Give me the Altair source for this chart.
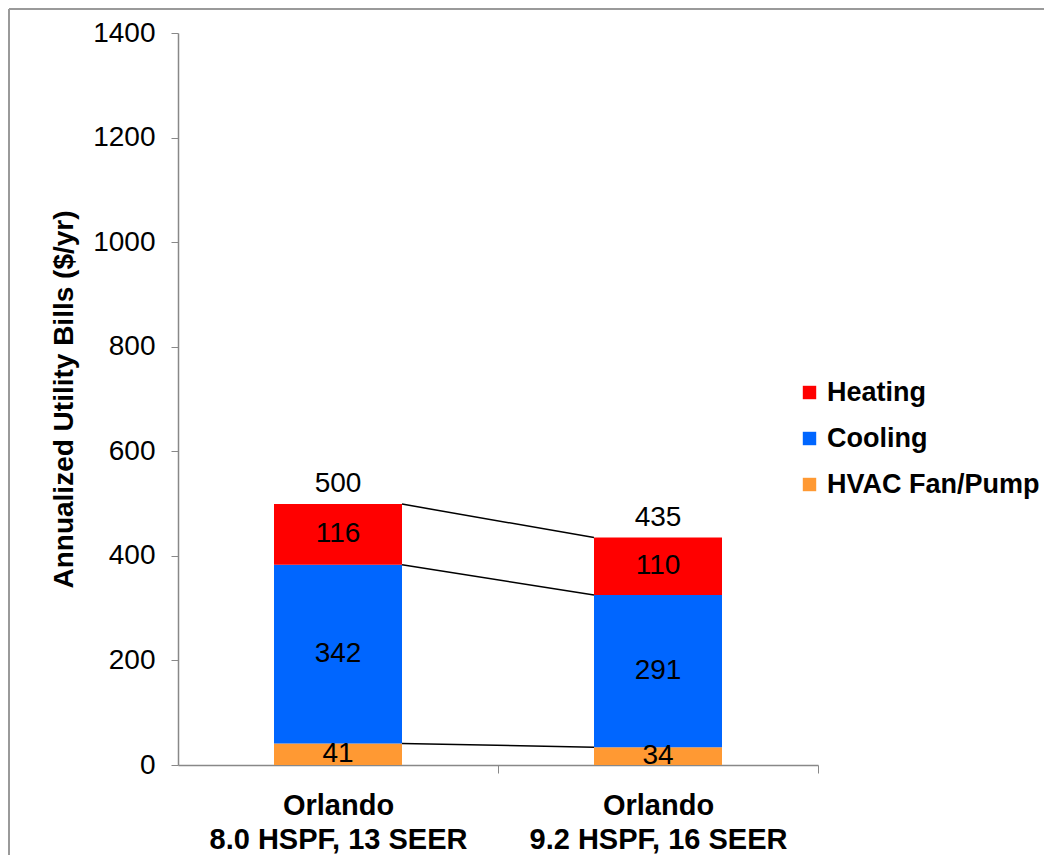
import altair as alt
import pandas as pd

# ---- data ----
categories = ["Orlando\n8.0 HSPF, 13 SEER", "Orlando\n9.2 HSPF, 16 SEER"]
components = ["HVAC Fan/Pump", "Cooling", "Heating"]   # bottom -> top
fan_pump = [41, 34]
cooling = [342, 291]
heating = [116, 110]
totals = [500, 435]
legend_order = ["Heating", "Cooling", "HVAC Fan/Pump"]
legend_colors = ["#FF0000", "#0066FF", "#FF9933"]
y_ticks = [0, 200, 400, 600, 800, 1000, 1200, 1400]

FONT = "Liberation Sans, Arial, sans-serif"

# ---- build tables ----
series = [fan_pump, cooling, heating]
rows = []
tops = {c: [] for c in components}
for i, cat in enumerate(categories):
    base = 0
    for comp, vals in zip(components, series):
        v = vals[i]
        rows.append(dict(category=cat, component=comp, value=v,
                         y0=base, y1=base + v, mid=base + v / 2))
        base += v
        tops[comp].append(base)
seg = pd.DataFrame(rows)
tot = pd.DataFrame({"category": categories, "total": totals})
conn = pd.DataFrame({
    "left": [categories[0]] * 3,
    "right": [categories[1]] * 3,
    "yl": [tops[c][0] for c in components],
    "yr": [tops[c][1] for c in components],
})

W, H = 640, 732
step = W / 2

xscale = alt.Scale(domain=categories, paddingInner=0.6, paddingOuter=0.3)
yscale = alt.Scale(domain=[0, 1400])

x_axis = alt.Axis(
    title=None, labelAngle=0, labelExpr="split(datum.label, '\\n')",
    labelFont=FONT, labelFontSize=29, labelFontWeight="bold", labelColor="black",
    labelLineHeight=34, labelPadding=18, labelBaseline="top", labelLimit=0,
    bandPosition=0.5, tickOffset=step / 2, labelOffset=-step / 2,
    tickSize=8, tickColor="#888888", domainColor="#888888", domainWidth=1.5,
)
y_axis = alt.Axis(
    values=y_ticks, format="d", title="Annualized Utility Bills ($/yr)",
    titleFont=FONT, titleFontSize=28, titleFontWeight="bold", titleColor="black",
    titleX=-114, titleBaseline="middle",
    labelFont=FONT, labelFontSize=28, labelColor="black", labelPadding=16,
    tickSize=7, tickColor="#888888", domainColor="#888888", domainWidth=1.5, grid=False,
)

bars = alt.Chart(seg).mark_bar().encode(
    x=alt.X("category:N", scale=xscale, sort=categories, axis=x_axis),
    y=alt.Y("y1:Q", scale=yscale, axis=y_axis),
    y2="y0:Q",
    color=alt.Color(
        "component:N",
        scale=alt.Scale(domain=legend_order, range=legend_colors),
        legend=alt.Legend(
            orient="none", legendX=618, legendY=346, title=None,
            symbolType="square", symbolSize=180, symbolStrokeWidth=0,
            labelFont=FONT, labelFontSize=27, labelFontWeight="bold", labelColor="black",
            rowPadding=18, labelOffset=4, labelLimit=0,
        ),
    ),
)

seg_labels = alt.Chart(seg).mark_text(
    font=FONT, fontSize=28, color="black", baseline="middle", clip=True
).encode(
    x=alt.X("category:N", scale=xscale, sort=categories),
    y=alt.Y("mid:Q", scale=yscale),
    text="value:Q",
)

tot_labels = alt.Chart(tot).mark_text(
    font=FONT, fontSize=28, color="black", baseline="alphabetic", dy=-12
).encode(
    x=alt.X("category:N", scale=xscale, sort=categories),
    y=alt.Y("total:Q", scale=yscale),
    text="total:Q",
)

connectors = alt.Chart(conn).mark_rule(color="black", strokeWidth=1.5).encode(
    x=alt.X("left:N", scale=xscale, sort=categories, bandPosition=1),
    x2=alt.X2("right:N", bandPosition=0),
    y=alt.Y("yl:Q", scale=yscale),
    y2="yr:Q",
)

frame_df = pd.DataFrame({"k": [0]})
frame_top = alt.Chart(frame_df).mark_rule(color="#9a9a9a", strokeWidth=2).encode(
    x=alt.value(-169), x2=alt.value(W + 226), y=alt.value(-24)
)
frame_left = alt.Chart(frame_df).mark_rule(color="#9a9a9a", strokeWidth=2).encode(
    x=alt.value(-169), y=alt.value(-24), y2=alt.value(H + 90)
)

chart = alt.layer(
    bars, connectors, seg_labels, tot_labels, frame_top, frame_left
).properties(
    width=W, height=H,
    autosize=alt.AutoSizeParams(type="none"),
    padding={"left": 170, "top": 25, "right": 226, "bottom": 90},
).configure(font=FONT, background="white").configure_view(strokeWidth=0, stroke="transparent")

chart.save("out.html", embed_options={"renderer": "svg", "actions": False})
